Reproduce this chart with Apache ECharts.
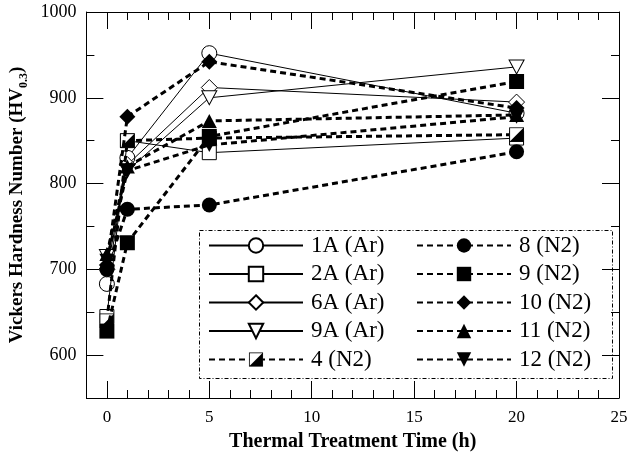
<!DOCTYPE html>
<html>
<head>
<meta charset="utf-8">
<script src="https://cdn.jsdelivr.net/npm/echarts@6/dist/echarts.min.js"></script>
<style>
  html, body { margin: 0; padding: 0; background: #fff; }
  #chart { width: 633px; height: 457px; }
</style>
</head>
<body>
<div id="chart"></div>
<script>
// thermal treatment times (h)
const times = [0, 1, 5, 20];

// hardness values HV0.3
const hv1A = [683, 830, 952, 882];
const hv2A = [645, 850, 836, 853];
const hv6A = [700, 822, 912, 895];
const hv9A = [715, 815, 900, 936];
const hv4 = [640, 850, 853, 857];
const hv8 = [700, 770, 775, 837];
const hv9 = [628, 731, 855, 919];
const hv10 = [705, 878, 942, 888];
const hv11 = [718, 820, 873, 880];
const hv12 = [710, 815, 845, 878];

const xMajorTicks = [0, 5, 10, 15, 20, 25];
const xMinorTicks = [1, 2, 3, 4, 6, 7, 8, 9, 11, 12, 13, 14, 16, 17, 18, 19, 21, 22, 23, 24];
const yMajorTicks = [600, 700, 800, 900, 1000];
const yMinorTicks = [650, 750, 850, 950];

const serif = 'Liberation Serif';

const halfSquareSvg = "<svg xmlns='http://www.w3.org/2000/svg' width='30' height='30' viewBox='0 0 30 30'>" +
  "<rect x='1' y='1' width='28' height='28' fill='white' stroke='black' stroke-width='2'/>" +
  "<path d='M29 1 L29 29 L1 29 Z' fill='black'/></svg>";
const halfSquare = 'image://data:image/svg+xml;charset=utf-8,' + encodeURIComponent(halfSquareSvg);
const downTriangle = 'path://M0,0 L10,0 L5,9 Z';

function pts(vals) {
  return times.map((t, i) => [t, vals[i]]);
}

// argon series: thin solid line, open marker
function arSeries(name, vals, symbol, size) {
  return {
    name: name,
    type: 'line',
    data: pts(vals),
    symbol: symbol,
    symbolSize: size,
    showAllSymbol: true,
    lineStyle: { color: '#000', width: 1, type: 'solid' },
    itemStyle: { color: '#fff', borderColor: '#000', borderWidth: 1 }
  };
}

// nitrogen series: thick dashed line, filled marker
function n2Series(name, vals, symbol, size) {
  return {
    name: name,
    type: 'line',
    data: pts(vals),
    symbol: symbol,
    symbolSize: size,
    showAllSymbol: true,
    lineStyle: { color: '#000', width: 3, type: [6, 4] },
    itemStyle: { color: '#000', borderColor: '#000', borderWidth: 0 }
  };
}

const series = [
  arSeries('1A (Ar)', hv1A, 'circle', 15),
  arSeries('2A (Ar)', hv2A, 'rect', 14),
  arSeries('6A (Ar)', hv6A, 'diamond', 16),
  arSeries('9A (Ar)', hv9A, downTriangle, [15, 14]),
  n2Series('4 (N2)', hv4, halfSquare, 15),
  n2Series('8 (N2)', hv8, 'circle', 15),
  n2Series('9 (N2)', hv9, 'rect', 15),
  n2Series('10 (N2)', hv10, 'diamond', 16),
  n2Series('11 (N2)', hv11, 'triangle', [15, 14]),
  n2Series('12 (N2)', hv12, downTriangle, [15, 14])
];
series.forEach((s, i) => { s.z = 2 + i; });

function xAxisDef(pos, ticks, len, labels, line) {
  return {
    type: 'value', min: -1, max: 25, position: pos,
    axisLine: { show: line, onZero: false, lineStyle: { color: '#000', width: 1 } },
    axisTick: { show: true, inside: true, length: len, customValues: ticks, lineStyle: { color: '#000', width: 1 } },
    axisLabel: labels ? { show: true, customValues: ticks, color: '#000', fontFamily: serif, fontSize: 17, margin: 11 } : { show: false },
    splitLine: { show: false }
  };
}

function yAxisDef(pos, ticks, len, labels, line) {
  return {
    type: 'value', min: 550, max: 1000, position: pos,
    axisLine: { show: line, onZero: false, lineStyle: { color: '#000', width: 1 } },
    axisTick: { show: true, inside: true, length: len, customValues: ticks, lineStyle: { color: '#000', width: 1 } },
    axisLabel: labels ? { show: true, customValues: ticks, formatter: v => String(v), color: '#000', fontFamily: serif, fontSize: 18, margin: 10 } : { show: false },
    splitLine: { show: false }
  };
}

const xAxes = [
  xAxisDef('bottom', xMajorTicks, 17, true, true),
  xAxisDef('bottom', xMinorTicks, 8, false, false),
  xAxisDef('top', xMajorTicks, 17, false, true),
  xAxisDef('top', xMinorTicks, 8, false, false)
];
Object.assign(xAxes[0], {
  name: 'Thermal Treatment Time (h)',
  nameLocation: 'middle',
  nameGap: 34,
  nameTextStyle: { color: '#000', fontFamily: serif, fontWeight: 'bold', fontSize: 20 }
});

const yAxes = [
  yAxisDef('left', yMajorTicks, 17, true, true),
  yAxisDef('left', yMinorTicks, 8, false, false),
  yAxisDef('right', yMajorTicks, 17, false, true),
  yAxisDef('right', yMinorTicks, 8, false, false)
];
Object.assign(yAxes[0], {
  name: 'Vickers Hardness Number (HV{s|0.3})',
  nameLocation: 'middle',
  nameGap: 48,
  nameTextStyle: {
    color: '#000', fontFamily: serif, fontWeight: 'bold', fontSize: 19,
    rich: { s: { color: '#000', fontFamily: serif, fontWeight: 'bold', fontSize: 12, padding: [12, 0, 0, 0] } }
  }
});

const legendText = { color: '#000', fontFamily: serif, fontSize: 23, padding: [0, 0, 0, 3] };

const option = {
  animation: false,
  backgroundColor: '#fff',
  grid: { left: 83, right: 14, top: 12, bottom: 57 },
  xAxis: xAxes,
  yAxis: yAxes,
  legend: [
    {
      data: ['1A (Ar)', '2A (Ar)', '6A (Ar)', '9A (Ar)', '4 (N2)'],
      orient: 'vertical', left: 203, top: 229,
      itemWidth: 94, itemHeight: 18, itemGap: 5.5,
      textStyle: legendText, selectedMode: false
    },
    {
      data: ['8 (N2)', '9 (N2)', '10 (N2)', '11 (N2)', '12 (N2)'],
      orient: 'vertical', left: 411, top: 229,
      itemWidth: 94, itemHeight: 18, itemGap: 5.5,
      textStyle: legendText, selectedMode: false
    }
  ],
  graphic: [
    {
      type: 'rect', left: 197, top: 228, z: 1,
      shape: { width: 413, height: 148 },
      style: { fill: 'none', stroke: '#000', lineWidth: 1, lineDash: [4, 2, 1, 2] }
    }
  ],
  series: series
};

const chart = echarts.init(document.getElementById('chart'));
chart.setOption(option);
</script>
</body>
</html>
